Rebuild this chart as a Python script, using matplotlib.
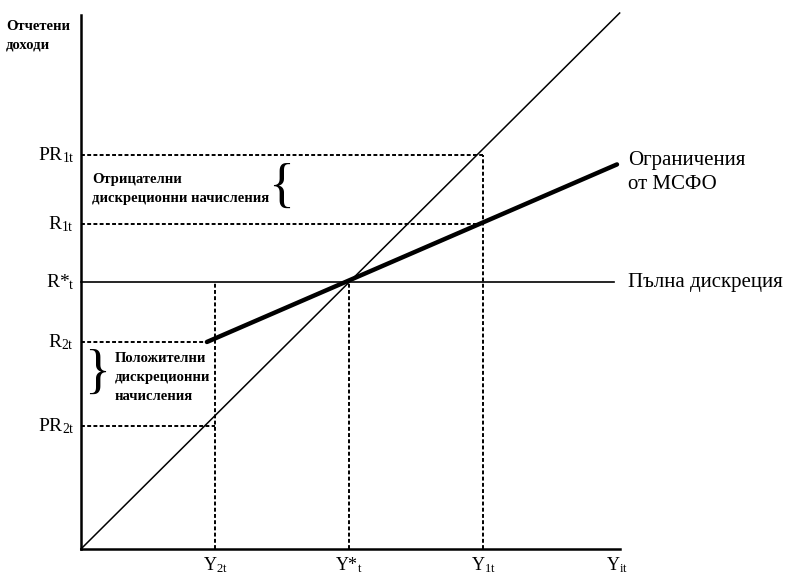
import matplotlib
matplotlib.use("Agg")
import matplotlib.pyplot as plt

plt.rcParams["font.family"] = ["Liberation Serif", "DejaVu Serif"]
plt.rcParams["mathtext.fontset"] = "custom"
plt.rcParams["mathtext.rm"] = "Liberation Serif"
plt.rcParams["mathtext.it"] = "Liberation Serif:italic"

# Levels on the reported-income axis
y_names = ["PR$_{\\mathrm{1t}}$", "R$_{\\mathrm{1t}}$", "R*$_{\\mathrm{t}}$",
           "R$_{\\mathrm{2t}}$", "PR$_{\\mathrm{2t}}$"]
y_vals = [2.94, 2.425, 1.99, 1.545, 0.918]

# Levels on the income axis
x_names = ["Y$_{\\mathrm{2t}}$", "Y*$_{\\mathrm{t}}$", "Y$_{\\mathrm{1t}}$", "Y$_{\\mathrm{it}}$"]
x_vals = [1.0, 2.0, 3.0, 4.0]

# 45 degree line and the IFRS constraint line
diag_x = [0, 4.02]
diag_y = [0, 4.0]
ifrs_x = [0.94, 4.0]
ifrs_y = [1.545, 2.87]

fig = plt.figure(figsize=(8.05, 5.76), dpi=100)
ax = fig.add_axes([0, 0, 1, 1])
ax.set_xlim(-0.604, 5.403)
ax.set_ylim(-0.2015, 4.097)
ax.axis("off")

dash = (0, (2.0, 1.2))

# axes
ax.plot([0, 0], [0, 3.985], color="black", lw=1.8)
ax.plot([0, 4.02], [0, 0], color="black", lw=1.8)

# dashed guide lines
pr1, r1, rs, r2, pr2 = y_vals
y2, ys, y1, yi = x_vals
ax.plot([0, y1], [pr1, pr1], color="black", lw=1.4, ls=dash)
ax.plot([0, y1], [r1, r1], color="black", lw=1.4, ls=dash)
ax.plot([0, ifrs_x[0]], [r2, r2], color="black", lw=1.4, ls=dash)
ax.plot([0, y2], [pr2, pr2], color="black", lw=1.4, ls=dash)
ax.plot([y1, y1], [0, pr1], color="black", lw=1.4, ls=dash)
ax.plot([ys, ys], [0, rs], color="black", lw=1.4, ls=dash)
ax.plot([y2, y2], [0, rs], color="black", lw=1.4, ls=dash)

# full discretion line
ax.plot([0, 3.98], [rs, rs], color="black", lw=1.2)
# 45 degree line
ax.plot(diag_x, diag_y, color="black", lw=1.1)
# IFRS constraint line
ax.plot(ifrs_x, ifrs_y, color="black", lw=3.2, solid_capstyle="round")

# tick labels
for name, v in zip(y_names, y_vals):
    ax.text(-0.05, v, name, ha="right", va="center", fontsize=14)
for name, v in zip(x_names, x_vals):
    ax.text(v, -0.045, name, ha="center", va="top", fontsize=13)

ax.text(-0.56, 3.83, "Отчетени\nдоходи", ha="left", va="center",
        fontsize=10.5, fontweight="bold", linespacing=1.55)

ax.text(4.08, ifrs_y[1] - 0.06, "Ограничения\nот МСФО", ha="left",
        va="center", fontsize=15, linespacing=1.35)
ax.text(4.08, rs, "Пълна дискреция", ha="left", va="center", fontsize=15)

ax.text(0.085, 2.69, "Отрицателни\nдискреционни начисления", ha="left",
        va="center", fontsize=10.5, fontweight="bold", linespacing=1.6)
ax.text(1.49, 2.69, "{", ha="center", va="center", fontsize=39,
        fontweight="light")

ax.text(0.25, 1.28, "Положителни\nдискреционни\nначисления", ha="left",
        va="center", fontsize=10.5, fontweight="bold", linespacing=1.6)
ax.text(0.12, 1.3, "}", ha="center", va="center", fontsize=39,
        fontweight="light")

fig.savefig("out.png", dpi=100)
